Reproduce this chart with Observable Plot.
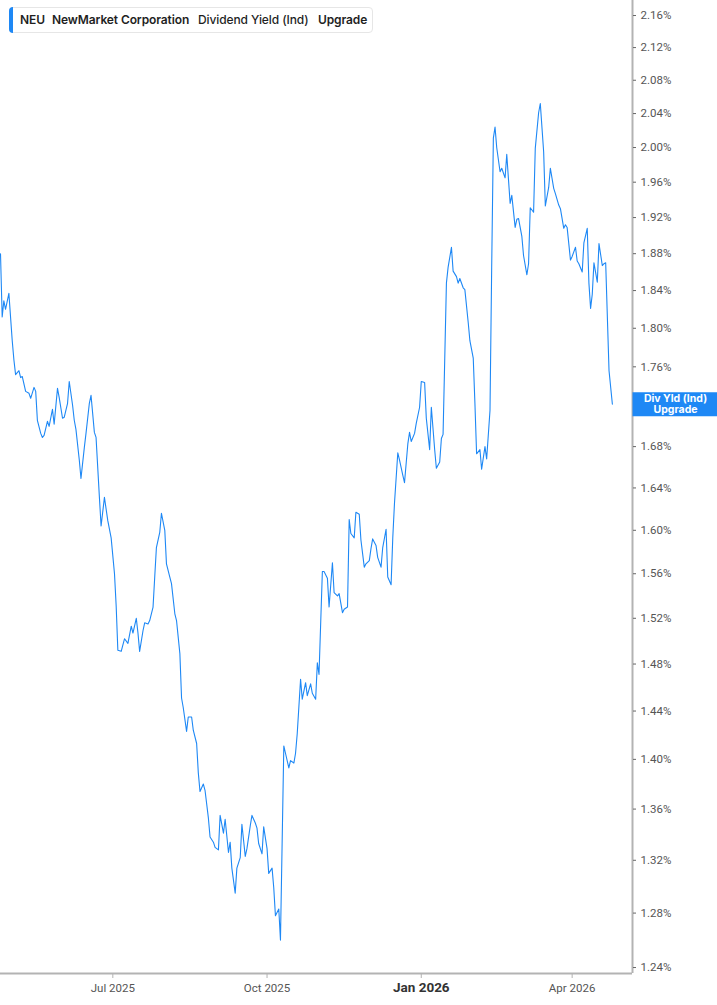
<!DOCTYPE html>
<html>
<head>
<meta charset="utf-8">
<script src="https://cdn.jsdelivr.net/npm/d3@7"></script>
<script src="https://cdn.jsdelivr.net/npm/@observablehq/plot@0.6"></script>
<style>
html,body{margin:0;padding:0;background:#fff;}
#wrap{position:relative;width:717px;height:1005px;overflow:hidden;}
#legend{position:absolute;left:9px;top:7px;height:26px;width:364px;box-sizing:border-box;border:1px solid #e6e6e6;border-radius:4px;background:#fff;font-family:Inter,"Noto Sans",sans-serif;font-size:12px;color:#1f1f1f;line-height:24px;letter-spacing:-0.1px;}
#legend .bar{position:absolute;left:-1px;top:-1px;bottom:-1px;width:4px;background:#1e88f5;border-radius:4px 0 0 4px;}
#legend span{position:absolute;top:0;white-space:nowrap;}
</style>
</head>
<body>
<div id="wrap">
<div id="chart"></div>
<div id="legend"><div class="bar"></div><span style="left:10px;font-weight:600">NEU</span><span style="left:42px;font-weight:600">NewMarket Corporation</span><span style="left:188px;font-weight:500">Dividend Yield (Ind)</span><span style="left:308px;font-weight:600">Upgrade</span></div>
</div>
<script>
// ---- Data ----
const dates = [
"2025-04-25","2025-04-26","2025-04-27","2025-04-28","2025-04-30","2025-05-02","2025-05-03","2025-05-04","2025-05-06","2025-05-07","2025-05-08","2025-05-10","2025-05-12","2025-05-13","2025-05-15","2025-05-16","2025-05-17","2025-05-19","2025-05-20","2025-05-21","2025-05-23","2025-05-24","2025-05-26","2025-05-27","2025-05-29","2025-05-30",
"2025-06-01","2025-06-02","2025-06-04","2025-06-05","2025-06-07","2025-06-08","2025-06-09","2025-06-11","2025-06-12","2025-06-14","2025-06-15","2025-06-17","2025-06-18","2025-06-20","2025-06-21","2025-06-23","2025-06-24","2025-06-26","2025-06-28","2025-06-30",
"2025-07-02","2025-07-03","2025-07-04","2025-07-06","2025-07-08","2025-07-10","2025-07-12","2025-07-13","2025-07-15","2025-07-16","2025-07-17","2025-07-19","2025-07-20","2025-07-22","2025-07-23","2025-07-25","2025-07-26","2025-07-27","2025-07-29","2025-07-30",
"2025-08-01","2025-08-02","2025-08-04","2025-08-05","2025-08-07","2025-08-08","2025-08-10","2025-08-11","2025-08-12","2025-08-14","2025-08-15","2025-08-17","2025-08-18","2025-08-20","2025-08-21","2025-08-22","2025-08-24","2025-08-25","2025-08-27","2025-08-28","2025-08-30","2025-08-31",
"2025-09-02","2025-09-03","2025-09-05","2025-09-06","2025-09-08","2025-09-09","2025-09-10","2025-09-12","2025-09-13","2025-09-15","2025-09-16","2025-09-18","2025-09-19","2025-09-21","2025-09-22","2025-09-24","2025-09-25","2025-09-26","2025-09-28","2025-09-29",
"2025-10-01","2025-10-02","2025-10-04","2025-10-05","2025-10-06","2025-10-08","2025-10-09","2025-10-11","2025-10-12","2025-10-14","2025-10-15","2025-10-17","2025-10-18","2025-10-19","2025-10-21","2025-10-22","2025-10-24","2025-10-25","2025-10-27","2025-10-28","2025-10-30","2025-10-31",
"2025-11-01","2025-11-03","2025-11-04","2025-11-06","2025-11-07","2025-11-09","2025-11-10","2025-11-12","2025-11-13","2025-11-15","2025-11-16","2025-11-18","2025-11-19","2025-11-20","2025-11-22","2025-11-23","2025-11-25","2025-11-26","2025-11-28","2025-11-29",
"2025-12-01","2025-12-02","2025-12-03","2025-12-05","2025-12-06","2025-12-08","2025-12-09","2025-12-11","2025-12-12","2025-12-14","2025-12-15","2025-12-16","2025-12-18","2025-12-19","2025-12-21","2025-12-22","2025-12-24","2025-12-25","2025-12-26","2025-12-28","2025-12-29","2025-12-31",
"2026-01-01","2026-01-03","2026-01-04","2026-01-06","2026-01-07","2026-01-09","2026-01-10","2026-01-12","2026-01-13","2026-01-14","2026-01-16","2026-01-17","2026-01-19","2026-01-20","2026-01-22","2026-01-23","2026-01-24","2026-01-26","2026-01-27","2026-01-29","2026-01-30",
"2026-02-01","2026-02-02","2026-02-03","2026-02-05","2026-02-06","2026-02-08","2026-02-09","2026-02-11","2026-02-12","2026-02-13","2026-02-14","2026-02-15","2026-02-17","2026-02-18","2026-02-20","2026-02-21","2026-02-23","2026-02-24","2026-02-26","2026-02-27","2026-02-28",
"2026-03-02","2026-03-03","2026-03-05","2026-03-06","2026-03-07","2026-03-09","2026-03-10","2026-03-12","2026-03-13","2026-03-15","2026-03-16","2026-03-18","2026-03-19","2026-03-21","2026-03-22","2026-03-24","2026-03-25","2026-03-27","2026-03-28","2026-03-29","2026-03-31",
"2026-04-01","2026-04-03","2026-04-04","2026-04-05","2026-04-07","2026-04-08","2026-04-10","2026-04-11","2026-04-12","2026-04-13","2026-04-14","2026-04-16","2026-04-17","2026-04-19","2026-04-20","2026-04-21","2026-04-23","2026-04-25"
];
const yieldPct = [
1.880,1.812,1.829,1.820,1.837,1.787,1.767,1.752,1.756,1.749,1.750,1.735,1.733,1.728,1.739,1.735,1.706,1.693,1.689,1.691,1.705,1.700,1.717,1.702,1.738,1.729,
1.708,1.709,1.723,1.745,1.721,1.706,1.697,1.667,1.649,1.679,1.693,1.723,1.731,1.694,1.689,1.631,1.604,1.631,1.609,1.593,
1.560,1.531,1.492,1.491,1.502,1.498,1.513,1.507,1.520,1.507,1.491,1.509,1.516,1.515,1.518,1.530,1.557,1.584,1.598,1.616,
1.600,1.569,1.557,1.551,1.524,1.518,1.489,1.451,1.443,1.423,1.435,1.435,1.424,1.413,1.389,1.374,1.380,1.375,1.353,1.338,1.334,1.330,
1.328,1.355,1.341,1.352,1.326,1.334,1.314,1.295,1.314,1.322,1.348,1.323,1.329,1.347,1.355,1.349,1.345,1.333,1.325,1.346,
1.329,1.310,1.314,1.299,1.278,1.283,1.260,1.411,1.405,1.393,1.399,1.397,1.405,1.421,1.467,1.450,1.464,1.453,1.463,1.455,1.450,1.481,
1.471,1.562,1.562,1.556,1.530,1.570,1.543,1.540,1.542,1.525,1.528,1.530,1.610,1.597,1.593,1.617,1.615,1.591,1.566,1.569,
1.572,1.583,1.592,1.586,1.575,1.566,1.584,1.601,1.557,1.550,1.593,1.625,1.674,1.667,1.652,1.645,1.683,1.694,1.685,1.693,1.703,1.719,
1.745,1.744,1.708,1.677,1.719,1.677,1.659,1.665,1.688,1.692,1.848,1.865,1.887,1.861,1.855,1.848,1.853,1.843,1.841,1.806,1.787,
1.769,1.723,1.673,1.677,1.658,1.680,1.668,1.716,1.865,2.011,2.024,2.000,1.972,1.976,1.965,1.992,1.936,1.945,1.909,1.918,1.919,
1.899,1.878,1.857,1.869,1.931,1.926,1.999,2.041,2.052,1.995,1.933,1.954,1.976,1.953,1.947,1.934,1.930,1.908,1.912,1.909,1.873,
1.877,1.887,1.872,1.869,1.860,1.892,1.908,1.848,1.821,1.836,1.870,1.849,1.891,1.867,1.869,1.870,1.756,1.722
];
const xTickDates = ["2025-07-01","2025-10-01","2026-01-01","2026-04-01"];
const xTickLabels = ["Jul 2025","Oct 2025","Jan 2026","Apr 2026"];
// 1.72% sits behind the last-value tag in the reference, so only its tick mark shows
const yTicks = [1.24,1.28,1.32,1.36,1.40,1.44,1.48,1.52,1.56,1.60,1.64,1.68,1.72,1.76,1.80,1.84,1.88,1.92,1.96,2.00,2.04,2.08,2.12,2.16];
const hiddenTickLabels = [1.72];
const xDomainDates = ["2025-04-25","2026-05-07"];
const yDomain = [1.2357, 2.179];
const seriesLabel = "Div Yld (Ind)\nUpgrade";

// ---- Build ----
const data = dates.map((d, i) => ({date: new Date(d), value: yieldPct[i]}));
const last = data[data.length - 1];
const xDomain = xDomainDates.map(d => new Date(d));
const tickDates = xTickDates.map(d => new Date(d));
const labelOf = new Map(tickDates.map((d, i) => [+d, xTickLabels[i]]));
const boldTick = tickDates.filter((d, i) => xTickLabels[i].startsWith("Jan"));
const normalTicks = tickDates.filter((d, i) => !xTickLabels[i].startsWith("Jan"));
const labelTicks = yTicks.filter(t => !hiddenTickLabels.includes(t));

const blue = "#1e88f5";
const rectSymbol = {draw(ctx) { ctx.moveTo(-42.5, -12); ctx.lineTo(42.5, -12); ctx.lineTo(42.5, 12); ctx.lineTo(-42.5, 12); ctx.closePath(); }};

const chart = Plot.plot({
  width: 717,
  height: 1005,
  marginLeft: 0,
  marginRight: 85,
  marginTop: 0,
  marginBottom: 32,
  style: {background: "transparent", fontFamily: "Roboto, sans-serif", overflow: "visible"},
  x: {type: "utc", domain: xDomain, axis: null},
  y: {type: "log", domain: yDomain, axis: null},
  marks: [
    Plot.ruleY([yDomain[0]], {stroke: "#b3b3b3", strokeWidth: 2}),
    Plot.ruleX([xDomain[1]], {stroke: "#b3b3b3", strokeWidth: 2}),
    Plot.axisX({ticks: normalTicks, tickFormat: d => labelOf.get(+d), tickSize: 5, tickPadding: 5, stroke: "#b3b3b3", fill: "#555", fontSize: 11.5, label: null}),
    Plot.axisX({ticks: boldTick, tickFormat: d => labelOf.get(+d), tickSize: 5, tickPadding: 4, stroke: "#b3b3b3", fill: "#333", fontSize: 13.5, fontWeight: "bold", label: null}),
    Plot.axisY({anchor: "right", ticks: yTicks, tickSize: 3, text: null, stroke: "#666", label: null}),
    Plot.axisY({anchor: "right", ticks: labelTicks, tickFormat: d => d.toFixed(2) + "%", tickSize: 0, tickPadding: 8, fill: "#555", fontSize: 11.5, label: null}),
    Plot.line(data, {x: "date", y: "value", stroke: blue, strokeWidth: 1.1}),
    Plot.dot([last], {y: "value", frameAnchor: "right", dx: 42.5, r: 1, symbol: rectSymbol, fill: blue, stroke: "none"}),
    Plot.text([last], {y: "value", frameAnchor: "right", dx: 43, text: () => seriesLabel, textAnchor: "middle", lineAnchor: "middle", lineHeight: 1.05, fill: "white", fontWeight: "bold", fontSize: 10.5, fontFamily: "Inter, sans-serif"})
  ]
});
document.getElementById("chart").appendChild(chart);
</script>
</body>
</html>
